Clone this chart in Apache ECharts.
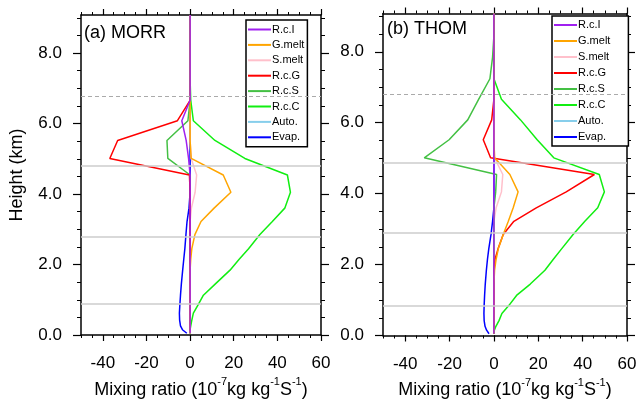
<!DOCTYPE html>
<html>
<head>
<meta charset="utf-8">
<script src="https://cdn.jsdelivr.net/npm/echarts@6/dist/echarts.min.js"></script>
<style>html,body{margin:0;padding:0;background:#fff}#c{width:639px;height:402px}</style>
</head>
<body>
<div id="c"></div>
<script>
// ---- data ----
const heights = [0.05, 0.15, 0.26, 0.42, 0.62, 0.85, 1.13, 1.45, 1.84, 2.15, 2.45, 2.85, 3.22, 3.6, 4.05, 4.54, 5.01, 5.52, 6.08, 6.66, 7.24, 7.85, 8.45, 9.08];
const seriesNames = ['R.c.I', 'G.melt', 'S.melt', 'R.c.G', 'R.c.S', 'R.c.C', 'Auto.', 'Evap.'];
const panelTitles = ['(a) MORR', '(b) THOM'];
const xTickValues = [-40, -20, 0, 20, 40, 60];
const yTickValues = [0, 2, 4, 6, 8];

// MORR
const morr_RcI   = [0,0,0,0,0,0,0,0,0,0,0,0,0,0,0,0,-0.7,-1.8,-3.8,0,0,0,0,0];
const morr_Gmelt = [0,0,0,0,0,0,0,0,0,0.3,0.8,2.2,5.0,11.0,18.7,15.2,0.5,0,0,0,0,0,0,0];
const morr_Smelt = [0,0,0,0,0,0,0,0,0,0,0,0,0,0.6,2.3,3.0,0.5,0,0,0,0,0,0,0];
const morr_RcG   = [0,0,0,0,0,0,0,0,0,0,0,0,0,0,0,-0.3,-36.8,-33.2,-5.8,0,0,0,0,0];
const morr_RcS   = [0,0,0,0,0,0,0,0,0,0,0,0,0,0,0,0,-10.2,-10.6,-1.0,0,0,0,0,0];
const morr_RcC   = [0,0,0.3,0.8,1.5,3.6,6.1,11.6,18.3,22.5,26.8,32,37.7,43.4,46,44.6,25.1,11.4,1.5,0.3,0,0,0,0];
const morr_Auto  = [0,0,0,0,0,0,0,0,0,0,0,0,0,0,0,0,0,0,0,0,0,0,0,0];
const morr_Evap  = [-1.5,-3.5,-4.4,-4.8,-4.9,-4.7,-4.4,-4.0,-3.4,-2.9,-2.4,-1.9,-1.4,-0.5,0,0,0,0,0,0,0,0,0,0];

// THOM
const thom_RcI   = [0,0,0,0,0,0,0,0,0,0,0,0,0,0,0,0,0,0,0,0,0,0,0,0];
const thom_Gmelt = [0,0,0,0,0,0,0,0,0.3,1.0,2.0,4.2,6.5,8.7,10.9,7.2,0.3,0,0,0,0,0,0,0];
const thom_Smelt = [0,0,0,0,0,0,0,0,0,0,0,0,0,1.0,3.4,4.0,0.3,0,0,0,0,0,0,0];
const thom_RcG   = [0,0,0,0,0,0,0,0,0,0.5,1.9,4.2,9.0,19.1,32.6,45.3,-1.5,-4.8,-1.0,0,0,0,0,0];
const thom_RcS   = [0,0,0,0,0,0,0,0,0,0,0,0,0,0,0.8,1.2,-31.4,-20.2,-11.8,-6.9,-1.8,-0.6,0,0];
const thom_RcC   = [0,0.2,0.9,2.3,3.6,6.8,10.2,16.4,23,26.8,30.6,35.7,41,46.8,49.8,47.5,27,19.5,12,3.4,0,0,0,0];
const thom_Auto  = [0,0,0,0,0,0,0,0,0,0,0,0,0,0,0,0,0,0,0,0,0,0,0,0];
const thom_Evap  = [-2.2,-3.3,-4.0,-4.4,-4.5,-4.4,-4.2,-3.9,-3.4,-2.9,-2.3,-1.3,-0.6,0,0,0,0,0,0,0,0,0,0,0];

// reference height lines (first one dashed)
const refLinesMorr = [6.78, 4.79, 2.78, 0.88];
const refLinesThom = [6.79, 4.86, 2.90, 0.84];

// ---- styling ----
const FONT = '"Liberation Sans", Arial, Helvetica, sans-serif';
const colors = {
  'R.c.I': '#a020f0', 'G.melt': '#ffa500', 'S.melt': '#ffc0cb', 'R.c.G': '#ff0000',
  'R.c.S': '#44c044', 'R.c.C': '#11ee11', 'Auto.': '#87ceeb', 'Evap.': '#0000ff'
};
const drawOrder = ['Auto.', 'Evap.', 'S.melt', 'R.c.S', 'R.c.G', 'R.c.C', 'G.melt', 'R.c.I'];

const panels = [
  { data: { 'R.c.I': morr_RcI, 'G.melt': morr_Gmelt, 'S.melt': morr_Smelt, 'R.c.G': morr_RcG,
            'R.c.S': morr_RcS, 'R.c.C': morr_RcC, 'Auto.': morr_Auto, 'Evap.': morr_Evap },
    refs: refLinesMorr,
    grid: { left: 81, top: 15, width: 240, height: 320, containLabel: false, outerBoundsMode: 'none' },
    title: { left: 84, top: 24 },
    legend: { left: 246, top: 20, gap: 2.4, padding: [3, 3, 3, 2] },
    showYName: true },
  { data: { 'R.c.I': thom_RcI, 'G.melt': thom_Gmelt, 'S.melt': thom_Smelt, 'R.c.G': thom_RcG,
            'R.c.S': thom_RcS, 'R.c.C': thom_RcC, 'Auto.': thom_Auto, 'Evap.': thom_Evap },
    refs: refLinesThom,
    grid: { left: 383, top: 13.5, width: 244, height: 322, containLabel: false, outerBoundsMode: 'none' },
    title: { left: 387, top: 20 },
    legend: { left: 552, top: 16, gap: 3, padding: [2.5, 18, 2.5, 2] },
    showYName: false }
];

const axisLineStyle = { color: '#000', width: 1.5 };
const grids = [], xAxes = [], yAxes = [], series = [], titles = [], legends = [];

panels.forEach((p, pi) => {
  grids.push(p.grid);
  titles.push({ text: panelTitles[pi], left: p.title.left, top: p.title.top, padding: 0,
    textStyle: { fontSize: 18, fontWeight: 'normal', fontFamily: FONT, color: '#000' } });
  legends.push({
    data: seriesNames, orient: 'vertical', left: p.legend.left, top: p.legend.top,
    icon: 'rect', itemWidth: 23, itemHeight: 2, itemGap: p.legend.gap,
    padding: p.legend.padding, backgroundColor: '#fff', borderColor: '#000', borderWidth: 1.5,
    selectedMode: false,
    textStyle: { fontSize: 11, lineHeight: 13, fontFamily: FONT, color: '#000', padding: [0, 0, 0, -4] }
  });
  const xb = xAxes.length;
  const xBase = { type: 'value', gridIndex: pi, min: -50, max: 60, splitLine: { show: false } };
  // bottom major
  xAxes.push(Object.assign({}, xBase, {
    position: 'bottom', interval: 10,
    axisLine: { show: true, onZero: false, lineStyle: axisLineStyle },
    axisTick: { show: true, inside: false, length: 6, customValues: xTickValues, lineStyle: { color: '#000', width: 1.2 } },
    axisLabel: { show: true, customValues: xTickValues, margin: 20, fontSize: 17, fontFamily: FONT, color: '#000' },
    name: '{a|Mixing ratio (10}{s|-7}{a|kg kg}{s|-1}{a|S}{s|-1}{a|)}',
    nameLocation: 'middle', nameGap: 39,
    nameTextStyle: { fontFamily: FONT, color: '#000', fontSize: 18,
      rich: { a: { fontSize: 18, fontFamily: FONT, color: '#000', lineHeight: 22, verticalAlign: 'bottom' },
              s: { fontSize: 11, fontFamily: FONT, color: '#000', lineHeight: 12, verticalAlign: 'top' } } }
  }));
  // bottom minor
  xAxes.push(Object.assign({}, xBase, {
    position: 'bottom', interval: 5,
    axisLine: { show: false, onZero: false },
    axisTick: { show: true, inside: false, length: 3, lineStyle: { color: '#000', width: 1 } },
    axisLabel: { show: false }
  }));
  // top major
  xAxes.push(Object.assign({}, xBase, {
    position: 'top', interval: 10,
    axisLine: { show: true, onZero: false, lineStyle: axisLineStyle },
    axisTick: { show: true, inside: false, length: 6, customValues: xTickValues, lineStyle: { color: '#000', width: 1.2 } },
    axisLabel: { show: false }
  }));
  // top minor
  xAxes.push(Object.assign({}, xBase, {
    position: 'top', interval: 5,
    axisLine: { show: false, onZero: false },
    axisTick: { show: true, inside: false, length: 3, lineStyle: { color: '#000', width: 1 } },
    axisLabel: { show: false }
  }));
  const yb = yAxes.length;
  const yBase = { type: 'value', gridIndex: pi, min: 0, max: 9.08, interval: 2, splitLine: { show: false },
    minorTick: { show: true, splitNumber: 4, length: 4, lineStyle: { color: '#000', width: 1 } },
    minorSplitLine: { show: false } };
  yAxes.push(Object.assign({}, yBase, {
    position: 'left',
    axisLine: { show: true, onZero: false, lineStyle: axisLineStyle },
    axisTick: { show: true, inside: false, length: 8, customValues: yTickValues, lineStyle: { color: '#000', width: 1.2 } },
    axisLabel: { show: true, customValues: yTickValues, margin: 19, fontSize: 17, fontFamily: FONT, color: '#000',
      formatter: v => v.toFixed(1) },
    name: p.showYName ? 'Height (km)' : '', nameLocation: 'middle', nameGap: 55,
    nameTextStyle: { fontSize: 18, fontFamily: FONT, color: '#000' }
  }));
  yAxes.push(Object.assign({}, yBase, {
    position: 'right',
    axisLine: { show: true, onZero: false, lineStyle: axisLineStyle },
    axisTick: { show: true, inside: false, length: 8, customValues: yTickValues, lineStyle: { color: '#000', width: 1.2 } },
    axisLabel: { show: false }
  }));
  // reference lines
  series.push({
    type: 'line', name: 'ref' + pi, xAxisIndex: xb, yAxisIndex: yb, data: [], silent: true, z: 1,
    markLine: { silent: true, symbol: 'none', animation: false, label: { show: false },
      data: p.refs.map((h, i) => ({ yAxis: h, lineStyle: i === 0
        ? { type: [4, 3], color: '#aaaaaa', width: 1 }
        : { type: 'solid', color: '#cccccc', width: 1.6 } })) }
  });
  drawOrder.forEach(name => {
    const vals = p.data[name];
    series.push({
      type: 'line', name: name, xAxisIndex: xb, yAxisIndex: yb, z: 3,
      data: heights.map((h, i) => [vals[i], h]),
      showSymbol: false, symbol: 'none', clip: true,
      color: colors[name],
      itemStyle: { color: colors[name] },
      lineStyle: { color: colors[name], width: 1.5 }
    });
  });
});

const chart = echarts.init(document.getElementById('c'), null, { renderer: 'canvas' });
chart.setOption({
  animation: false,
  backgroundColor: '#fff',
  title: titles,
  legend: legends,
  grid: grids,
  xAxis: xAxes,
  yAxis: yAxes,
  series: series
});
</script>
</body>
</html>
